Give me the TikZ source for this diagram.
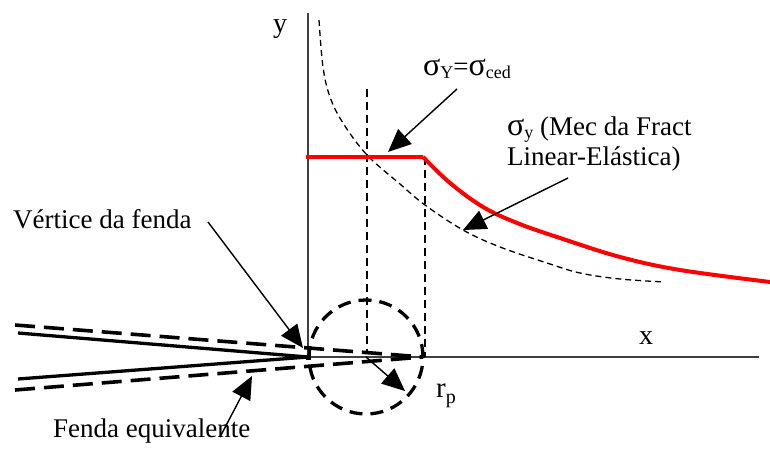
\documentclass[tikz,border=0pt]{standalone}
\usepackage{fontspec}
\setmainfont{Liberation Serif}
\usetikzlibrary{arrows.meta}
\newcommand{\sbx}[2][3.5pt]{\raisebox{-#1}{\fontsize{18}{18}\selectfont #2}}
\newcommand{\sig}{{\fontsize{32}{30}\selectfont σ}}
\begin{document}
\begin{tikzpicture}[x=1pt,y=-1pt,
  lbl/.style={font=\fontsize{27}{30}\selectfont, inner sep=0pt, anchor=base west},
  axisline/.style={line width=1.1pt, black!75},
  arr/.style={line width=1.4pt, -{Triangle[length=23pt,width=20pt]}},
  lefm/.style={line width=1.3pt, dash pattern=on 6pt off 4pt},
  vdash/.style={line width=1.5pt, dash pattern=on 8pt off 5pt},
  redline/.style={line width=4pt, red, line join=round},
  crack/.style={line width=3.3pt},
  eqcrack/.style={line width=3.6pt, dash pattern=on 20pt off 9pt},
  zone/.style={line width=3.3pt, dash pattern=on 13pt off 8pt}
]
\useasboundingbox (0,0) rectangle (770,469);

% axes
\coordinate (O) at (308,357);
\coordinate (ytop) at (308,13);
\coordinate (xend) at (759,357);
\draw[axisline] (O) -- (ytop);
\draw[axisline] (O) -- (xend);
\node[lbl, font=\fontsize{28}{30}\selectfont] (ylab) at (273,32) {y};
\node[lbl, font=\fontsize{28}{30}\selectfont] (xlab) at (639,344) {x};

% LEFM dashed curve
\draw[lefm] plot[smooth, tension=0.6] coordinates {(319,20) (323,67) (330,97) (343,123) (367,155) (400,184) (425,205) (463,230) (500,247) (547,263) (580,273) (620,279) (665,282)};

% dashed verticals
\coordinate (v1t) at (367,89);
\coordinate (v1b) at (367,352);
\coordinate (v2t) at (425,157);
\coordinate (v2b) at (425,357);
\draw[vdash] (v1t) -- (v1b);
\draw[vdash] (v2t) -- (v2b);

% red curve
\coordinate (rs) at (306,157);
\coordinate (rc) at (423,157);
\draw[redline] (rs) -- (rc);
\draw[redline] plot[smooth, tension=0.6] coordinates {(423,157) (450,183) (483,207) (517,223) (560,238) (620,257) (680,270) (770,282)};

% cracks
\coordinate (tip) at (308,357);
\coordinate (cu) at (18,333);
\coordinate (cl) at (18,379);
\draw[crack] (cu) -- (tip) -- (cl);
\coordinate (eqtip) at (423,357);
\coordinate (eu) at (15,325);
\coordinate (el) at (15,390);
\draw[eqcrack] (eu) -- (eqtip);
\draw[eqcrack] (el) -- (eqtip);
\node[fill=black, minimum size=5pt, inner sep=0pt] (tipsq) at (tip) {};

% plastic zone circle
\coordinate (pzc) at (366,357);
\draw[zone] (pzc) circle[radius=57pt];
\coordinate (rpend) at (405,391);
\draw[arr] (pzc) -- (rpend);
\node[lbl, font=\fontsize{29}{30}\selectfont] (rp) at (436,397) {r\sbx[6pt]{\fontsize{20}{20}\selectfont p}};

% labels
\node[lbl] (sced) at (423,75) {\sig\sbx{Y}=\sig\sbx{ced}};
\node[lbl] (slefma) at (507,135) {\sig\sbx{y} (Mec da Fract};
\node[lbl] (slefmb) at (507,165) {Linear-Elástica)};
\node[lbl] (vert) at (13,228) {Vértice da fenda};
\node[lbl] (feq) at (53,437) {Fenda equivalente};

% arrows
\coordinate (a1s) at (457,89);
\coordinate (a1e) at (388,152);
\draw[arr] (a1s) -- (a1e);
\coordinate (a2s) at (568,178);
\coordinate (a2e) at (463,230);
\draw[arr] (a2s) -- (a2e);
\coordinate (a3s) at (208,222);
\coordinate (a3e) at (303,348);
\draw[arr] (a3s) -- (a3e);
\coordinate (a4s) at (220,437);
\coordinate (a4e) at (252,376);
\draw[arr] (a4s) -- (a4e);
\end{tikzpicture}
\end{document}
